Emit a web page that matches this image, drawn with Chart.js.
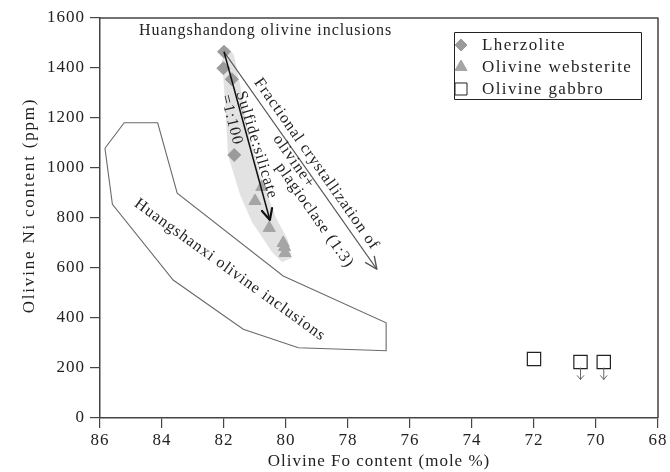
<!DOCTYPE html>
<html>
<head>
<meta charset="utf-8">
<title>Olivine Ni vs Fo</title>
<script src="https://cdn.jsdelivr.net/npm/chart.js@4.4.1/dist/chart.umd.min.js"></script>
<style>
  html, body { margin: 0; padding: 0; background: #fff; }
  #wrap { width: 670px; height: 472px; }
</style>
</head>
<body>
<div id="wrap"><canvas id="foNiChart" width="670" height="472"></canvas></div>
<script>
"use strict";

// Olivine Fo (mole %) and Ni (ppm) per rock type
const lherzoliteFo = [82.0, 82.02, 81.75, 81.67];
const lherzoliteNi = [1465, 1399, 1355, 1052];
const websteriteFo = [80.78, 81.0, 80.54, 80.09, 80.05, 80.03];
const websteriteNi = [924, 868, 760, 700, 684, 660];
const gabbroFo = [72.0, 70.5, 69.75];
const gabbroNi = [236, 224, 224];
// gabbro analyses that are upper limits (arrow below the square)
const gabbroLimitFo = [70.5, 69.75];

// Huangshanxi olivine inclusion field
const hsxFieldFo = [85.84, 85.22, 84.14, 83.51, 80.09, 76.77, 76.77, 79.6, 81.38, 83.64, 85.6, 85.84];
const hsxFieldNi = [1079, 1181, 1181, 899, 568, 381, 269, 281, 355, 552, 855, 1079];

// grey band around the Huangshandong trend
const bandFo = [81.87, 82.065, 81.97, 81.87, 81.48, 81.10, 80.45, 80.13, 79.81, 79.94, 80.32, 80.84, 81.23, 81.48, 81.68];
const bandNi = [1484, 1432, 1272, 1052, 892, 784, 664, 624, 640, 712, 800, 972, 1152, 1332, 1452];

// modelled trends: start -> end
const sulfideFo = [82.0, 80.52];
const sulfideNi = [1465, 792];
const fracFo = [82.0, 77.07];
const fracNi = [1465, 595];

const xTicks = [86, 84, 82, 80, 78, 76, 74, 72, 70, 68];
const yTicks = [0, 200, 400, 600, 800, 1000, 1200, 1400, 1600];

const zip = (xs, ys) => xs.map((x, i) => ({ x: x, y: ys[i] }));

const SERIF = "'Liberation Serif', 'DejaVu Serif', serif";
const INK = "#222";
const AXIS = "#444";

// free text on the plot, anchored in data units
const notes = [
    { text: "Huangshandong olivine inclusions", fo: 80.66, ni: 1548, rot: 0 },
    { text: "Huangshanxi olivine inclusions", fo: 81.81, ni: 592, rot: 35.8 },
    { text: "Sulfide:silicate", fo: 80.95, ni: 1092, rot: 73 },
    { text: "=1:100", fo: 81.76, ni: 1192, rot: 76 }
];

// labels that run along the fractional crystallization arrow:
// s = distance along the arrow (px), off = sideways offset (px, + is above/right)
const fracLabels = [
    { text: "Fractional crystallization of", s: 145, off: 11 },
    { text: "olivine+", s: 130, off: -6 },
    { text: "plagioclase (1:3)", s: 186, off: -20 }
];

const legendItems = [
    { label: "Lherzolite", style: "rectRot", radius: 6, fill: "#9b9b9b", stroke: "#9b9b9b" },
    { label: "Olivine websterite", style: "triangle", radius: 7, fill: "#a5a5a5", stroke: "#a5a5a5" },
    { label: "Olivine gabbro", style: "rect", radius: 8.5, fill: "#fff", stroke: INK }
];

function arrowHead(ctx, x0, y0, x1, y1, len, spread) {
    const a = Math.atan2(y1 - y0, x1 - x0);
    ctx.beginPath();
    ctx.moveTo(x1 - len * Math.cos(a - spread), y1 - len * Math.sin(a - spread));
    ctx.lineTo(x1, y1);
    ctx.lineTo(x1 - len * Math.cos(a + spread), y1 - len * Math.sin(a + spread));
    ctx.stroke();
}

function rotatedText(ctx, text, x, y, deg) {
    ctx.save();
    ctx.translate(x, y);
    ctx.rotate(deg * Math.PI / 180);
    ctx.fillText(text, 0, 0);
    ctx.restore();
}

const spacingPlugin = {
    id: "spacing",
    beforeLayout(chart) { chart.ctx.letterSpacing = "1px"; },
    beforeDraw(chart) { chart.ctx.letterSpacing = "1px"; }
};

const overlayPlugin = {
    id: "overlay",
    beforeDatasetsDraw(chart) {
        const { ctx, scales: { x, y } } = chart;
        ctx.save();
        ctx.beginPath();
        bandFo.forEach((fo, i) => {
            const px = x.getPixelForValue(fo), py = y.getPixelForValue(bandNi[i]);
            if (i === 0) ctx.moveTo(px, py); else ctx.lineTo(px, py);
        });
        ctx.closePath();
        ctx.fillStyle = "#e2e2e2";
        ctx.fill();
        ctx.restore();
    },
    afterDatasetsDraw(chart) {
        const { ctx, chartArea: area, scales: { x, y } } = chart;
        ctx.save();
        ctx.lineCap = "round";
        ctx.lineJoin = "round";

        const sx0 = x.getPixelForValue(sulfideFo[0]), sy0 = y.getPixelForValue(sulfideNi[0]);
        const sx1 = x.getPixelForValue(sulfideFo[1]), sy1 = y.getPixelForValue(sulfideNi[1]);
        const fx0 = x.getPixelForValue(fracFo[0]), fy0 = y.getPixelForValue(fracNi[0]);
        const fx1 = x.getPixelForValue(fracFo[1]), fy1 = y.getPixelForValue(fracNi[1]);

        // arrow heads on the two trends
        ctx.strokeStyle = "#111";
        ctx.lineWidth = 2.2;
        arrowHead(ctx, sx0, sy0, sx1, sy1, 12, 0.45);
        ctx.strokeStyle = "#555";
        ctx.lineWidth = 1.4;
        arrowHead(ctx, fx0, fy0, fx1, fy1, 13, 0.42);

        // upper-limit arrows under gabbro squares
        ctx.strokeStyle = "#666";
        ctx.lineWidth = 1;
        gabbroLimitFo.forEach(fo => {
            const px = x.getPixelForValue(fo);
            const y0 = y.getPixelForValue(200), y1 = y.getPixelForValue(154);
            ctx.beginPath();
            ctx.moveTo(px, y0);
            ctx.lineTo(px, y1);
            ctx.stroke();
            arrowHead(ctx, px, y0, px, y1, 5, 0.7);
        });

        // annotations
        ctx.fillStyle = INK;
        ctx.font = "16px " + SERIF;
        ctx.letterSpacing = "1px";
        ctx.textAlign = "center";
        ctx.textBaseline = "middle";
        notes.forEach(n => {
            rotatedText(ctx, n.text, x.getPixelForValue(n.fo), y.getPixelForValue(n.ni), n.rot);
        });

        const len = Math.hypot(fx1 - fx0, fy1 - fy0);
        const ax = (fx1 - fx0) / len, ay = (fy1 - fy0) / len;
        const fracDeg = Math.atan2(ay, ax) * 180 / Math.PI;
        fracLabels.forEach(l => {
            const px = fx0 + ax * l.s + ay * l.off;
            const py = fy0 + ay * l.s - ax * l.off;
            rotatedText(ctx, l.text, px, py, fracDeg);
        });

        // y axis title
        ctx.font = "17px " + SERIF;
        ctx.letterSpacing = "1.8px";
        rotatedText(ctx, "Olivine Ni content (ppm)", area.left - 70, y.getPixelForValue(850), -90);

        // top and right frame
        ctx.strokeStyle = AXIS;
        ctx.lineWidth = 1.5;
        ctx.lineCap = "butt";
        ctx.beginPath();
        ctx.moveTo(area.left, area.top);
        ctx.lineTo(area.right, area.top);
        ctx.lineTo(area.right, area.bottom);
        ctx.stroke();

        // legend box
        const bw = 187, bh = 67;
        const bx = area.right - 17 - bw, by = area.top + 14;
        ctx.lineWidth = 1;
        ctx.strokeStyle = INK;
        ctx.strokeRect(bx + 0.5, by + 0.5, bw, bh);
        ctx.font = "17px " + SERIF;
        ctx.letterSpacing = "1.4px";
        ctx.textAlign = "left";
        legendItems.forEach((it, i) => {
            const cy = by + 13 + i * 22;
            ctx.fillStyle = it.fill;
            ctx.strokeStyle = it.stroke;
            Chart.helpers.drawPoint(ctx, { pointStyle: it.style, radius: it.radius, rotation: 0, borderWidth: 1.2 }, bx + 7, cy);
            ctx.fillStyle = INK;
            ctx.fillText(it.label, bx + 28, cy + 1);
        });
        ctx.restore();
    }
};

document.addEventListener("DOMContentLoaded", () => {
    const ctx = document.getElementById("foNiChart").getContext("2d");

    new Chart(ctx, {
        type: "scatter",
        data: {
            datasets: [
                {
                    label: "Lherzolite",
                    data: zip(lherzoliteFo, lherzoliteNi),
                    pointStyle: "rectRot",
                    pointRadius: 6.5,
                    backgroundColor: "#9b9b9b",
                    borderColor: "#9b9b9b",
                    borderWidth: 1,
                    order: 3
                },
                {
                    label: "Olivine websterite",
                    data: zip(websteriteFo, websteriteNi),
                    pointStyle: "triangle",
                    pointRadius: 7,
                    backgroundColor: "#a5a5a5",
                    borderColor: "#a5a5a5",
                    borderWidth: 1,
                    order: 3
                },
                {
                    label: "Olivine gabbro",
                    data: zip(gabbroFo, gabbroNi),
                    pointStyle: "rect",
                    pointRadius: 9.4,
                    backgroundColor: "#fff",
                    borderColor: INK,
                    borderWidth: 1.2,
                    order: 3
                },
                {
                    label: "Huangshanxi field",
                    data: zip(hsxFieldFo, hsxFieldNi),
                    showLine: true,
                    pointRadius: 0,
                    borderColor: "#6a6a6a",
                    borderWidth: 1.1,
                    order: 5
                },
                {
                    label: "Sulfide:silicate",
                    data: zip(sulfideFo, sulfideNi),
                    showLine: true,
                    pointRadius: 0,
                    borderColor: "#111",
                    borderWidth: 1.5,
                    order: 1
                },
                {
                    label: "Fractional crystallization",
                    data: zip(fracFo, fracNi),
                    showLine: true,
                    pointRadius: 0,
                    borderColor: "#555",
                    borderWidth: 1.3,
                    order: 1
                }
            ]
        },
        options: {
            responsive: false,
            devicePixelRatio: 1,
            animation: false,
            layout: { padding: { left: 0, right: 12, top: 18, bottom: 0 } },
            plugins: {
                legend: { display: false },
                tooltip: { enabled: false }
            },
            scales: {
                x: {
                    type: "linear",
                    reverse: true,
                    min: 68,
                    max: 86,
                    afterBuildTicks: s => { s.ticks = xTicks.map(v => ({ value: v })); },
                    afterFit: s => { s.height = 54; },
                    grid: { drawOnChartArea: false, tickLength: 10, color: AXIS, lineWidth: 1.2 },
                    border: { color: AXIS, width: 1.5 },
                    ticks: {
                        color: INK,
                        padding: 2,
                        maxRotation: 0,
                        font: { family: SERIF, size: 17 },
                        callback: v => String(v)
                    },
                    title: {
                        display: true,
                        text: "Olivine Fo content (mole %)",
                        color: INK,
                        padding: { top: 0, bottom: 0 },
                        font: { family: SERIF, size: 17 }
                    }
                },
                y: {
                    type: "linear",
                    min: 0,
                    max: 1600,
                    afterBuildTicks: s => { s.ticks = yTicks.map(v => ({ value: v })); },
                    afterFit: s => { s.width = 100; },
                    grid: { drawOnChartArea: false, tickLength: 10, color: AXIS, lineWidth: 1.2 },
                    border: { color: AXIS, width: 1.5 },
                    ticks: {
                        color: INK,
                        padding: 5,
                        font: { family: SERIF, size: 17 },
                        callback: v => String(v)
                    }
                }
            }
        },
        plugins: [spacingPlugin, overlayPlugin]
    });
});
</script>
</body>
</html>
